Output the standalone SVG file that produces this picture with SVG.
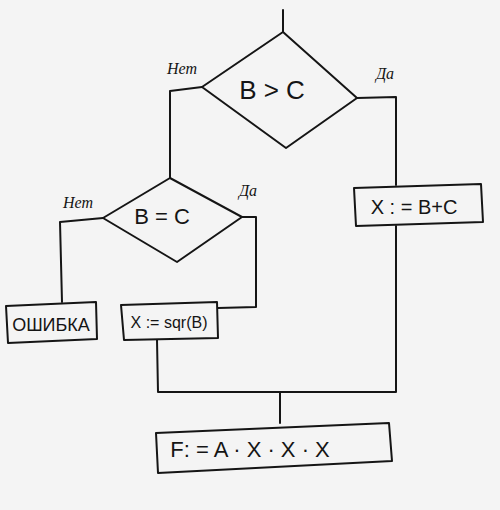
<svg xmlns="http://www.w3.org/2000/svg" width="500" height="510" viewBox="0 0 500 510">
<style>
.s{fill:none;stroke:#151515;stroke-width:2;stroke-linejoin:round;stroke-linecap:round}
.t{font-family:"Liberation Sans","DejaVu Sans",sans-serif;fill:#151515;text-anchor:middle}
.l{font-family:"Liberation Serif","DejaVu Serif",serif;font-style:italic;fill:#151515;font-size:16px;text-anchor:middle}
</style>
<rect width="500" height="510" fill="#f4f4f4"/>
<g id="connectors">
<path class="s" d="M283,10 L283,32"/>
<path class="s" d="M202,87 L170,91 L170,178"/>
<path class="s" d="M357,98 L396,97 L396,185"/>
<path class="s" d="M396,226 L396,392 L158,392 L157,340"/>
<path class="s" d="M103,218 L60,222 L62,302"/>
<path class="s" d="M242,217 L256,217 L256,307 L218,308"/>
<path class="s" d="M280,392 L280,423"/>
</g>
<g id="d1">
<path class="s" d="M283,32 L357,98 L286,148 L202,87 Z"/>
<text class="t" x="272" y="99" font-size="26">B &gt; C</text>
</g>
<g id="lbl1"><text class="l" x="182" y="74">Нет</text><text class="l" x="385" y="79">Да</text></g>
<g id="d2">
<path class="s" d="M170,178 L242,217 L177,262 L103,218 Z"/>
<text class="t" x="162" y="224" font-size="22">B = C</text>
</g>
<g id="lbl2"><text class="l" x="78" y="208">Нет</text><text class="l" x="248" y="196">Да</text></g>
<g id="b1">
<path class="s" d="M354,188 L481,184 L483,222 L356,226 Z"/>
<text class="t" x="414" y="214" font-size="20">X : = B+C</text>
</g>
<g id="b2">
<path class="s" d="M6,306 L96,302 L97,339 L8,343 Z"/>
<text class="t" x="51" y="331" font-size="18">ОШИБКА</text>
</g>
<g id="b3">
<path class="s" d="M121,305 L217,302 L218,338 L124,340 Z"/>
<text class="t" x="169" y="328" font-size="16">X := sqr(B)</text>
</g>
<g id="b4">
<path class="s" d="M156,433 L389,423 L392,461 L158,473 Z"/>
<text class="t" x="250" y="457" font-size="22">F: = A · X · X · X</text>
</g>
</svg>
